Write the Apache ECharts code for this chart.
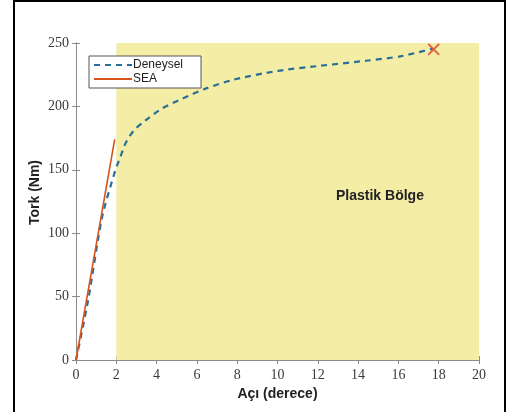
<!DOCTYPE html>
<html>
<head>
<meta charset="utf-8">
<script src="https://cdn.jsdelivr.net/npm/echarts@6/dist/echarts.min.js"></script>
<style>
  html, body { margin: 0; padding: 0; background: #fff; }
  #chart { width: 509px; height: 412px; }
</style>
</head>
<body>
<div id="chart"></div>
<script>
// deneysel (experimental) torque curve
const expAngle = [0, 0.6, 1.3, 1.96, 2.2, 2.46, 2.87, 3.45, 4.28, 5.27, 6.43, 7.8, 10, 12.1, 14.4, 16.1, 17.7];
const expTorque = [0, 47, 113, 150, 160, 171, 181, 189, 198.5, 206, 214, 221, 228, 232, 236, 239.5, 245.5];
// SEA linear elastic line
const seaAngle = [0, 1.92];
const seaTorque = [0, 174];
// failure point
const failAngle = [17.75];
const failTorque = [245];
// plastic zone range
const plasticRange = [2, 20];
const xTicks = [0, 20, 2];
const yTicks = [0, 250, 50];

const chart = echarts.init(document.getElementById("chart"));

const zip = (a, b) => a.map((v, i) => [v, b[i]]);
const AXIS_GREY = "#8a8a8a";
const serifLabel = { fontFamily: "Liberation Serif", fontSize: 14, color: "#3a3a3a" };

const option = {
    backgroundColor: "#fff",
    animation: false,
    grid: { left: 76, right: 30, top: 43, bottom: 52, show: false },
    graphic: [
        {
            type: "rect",
            shape: { x: 14, y: 1, width: 491, height: 416 },
            style: { fill: "none", stroke: "#000", lineWidth: 2 },
            z: 100,
        },
        {
            type: "text",
            left: 336,
            top: 189,
            style: { text: "Plastik Bölge", font: "bold 14px 'Liberation Sans'", fill: "#222" },
            z: 50,
        },
    ],
    legend: {
        left: 89,
        top: 56,
        orient: "vertical",
        itemWidth: 38,
        itemHeight: 10,
        itemGap: 2,
        padding: [3, 18, 3, 4],
        backgroundColor: "#fff",
        borderColor: "#555",
        borderWidth: 1,
        borderRadius: 0,
        itemStyle: { color: "rgba(0,0,0,0)", borderWidth: 0 },
        textStyle: { fontFamily: "Liberation Sans", fontSize: 12, color: "#222", padding: [0, 0, 0, -4] },
        data: ["Deneysel", "SEA"],
    },
    xAxis: [
        {
            type: "value",
            min: xTicks[0],
            max: xTicks[1],
            interval: xTicks[2],
            name: "Açı (derece)",
            nameLocation: "middle",
            nameGap: 21,
            nameTextStyle: { fontFamily: "Liberation Sans", fontSize: 14, fontWeight: "bold", color: "#222" },
            axisLine: { lineStyle: { color: AXIS_GREY } },
            axisTick: { inside: true, length: 4, lineStyle: { color: AXIS_GREY } },
            axisLabel: Object.assign({ margin: 8 }, serifLabel),
            splitLine: { show: false },
        },
        {
            type: "value",
            position: "top",
            min: xTicks[0],
            max: xTicks[1],
            interval: xTicks[2],
            axisLine: { show: true, lineStyle: { color: AXIS_GREY } },
            axisTick: { inside: true, length: 4, lineStyle: { color: AXIS_GREY } },
            axisLabel: { show: false },
            splitLine: { show: false },
        },
    ],
    yAxis: [
        {
            type: "value",
            min: yTicks[0],
            max: yTicks[1],
            interval: yTicks[2],
            name: "Tork (Nm)",
            nameLocation: "middle",
            nameGap: 34,
            nameMoveOverlap: false,
            nameTextStyle: { fontFamily: "Liberation Sans", fontSize: 14, fontWeight: "bold", color: "#222", padding: [0, 0, 0, 18] },
            axisLine: { show: true, lineStyle: { color: AXIS_GREY } },
            axisTick: { show: true, inside: true, length: 4, lineStyle: { color: AXIS_GREY } },
            axisLabel: Object.assign({ margin: 7 }, serifLabel),
            splitLine: { show: false },
        },
        {
            type: "value",
            position: "right",
            min: yTicks[0],
            max: yTicks[1],
            interval: yTicks[2],
            axisLine: { show: true, lineStyle: { color: AXIS_GREY } },
            axisTick: { show: true, inside: true, length: 4, lineStyle: { color: AXIS_GREY } },
            axisLabel: { show: false },
            splitLine: { show: false },
        },
    ],
    series: [
        {
            name: "Deneysel",
            type: "line",
            data: zip(expAngle, expTorque),
            smooth: 0.25,
            symbol: "none",
            lineStyle: { color: "#2A6F9A", width: 2.2, type: [6, 5] },
            itemStyle: { color: "#2A6F9A" },
            z: 3,
            markArea: {
                silent: true,
                itemStyle: { color: "#F3EDA6" },
                data: [[{ xAxis: plasticRange[0] }, { xAxis: plasticRange[1] }]],
            },
        },
        {
            name: "SEA",
            type: "line",
            data: zip(seaAngle, seaTorque),
            symbol: "none",
            lineStyle: { color: "#D95319", width: 1.6 },
            itemStyle: { color: "#D95319" },
            z: 4,
        },
        {
            name: "fail",
            type: "scatter",
            data: zip(failAngle, failTorque),
            symbol: "path://M0,0 L10,10 M10,0 L0,10",
            symbolSize: 11,
            itemStyle: { color: "none", borderColor: "#E0402A", borderWidth: 2 },
            z: 5,
        },
    ],
};

chart.setOption(option);
</script>
</body>
</html>
